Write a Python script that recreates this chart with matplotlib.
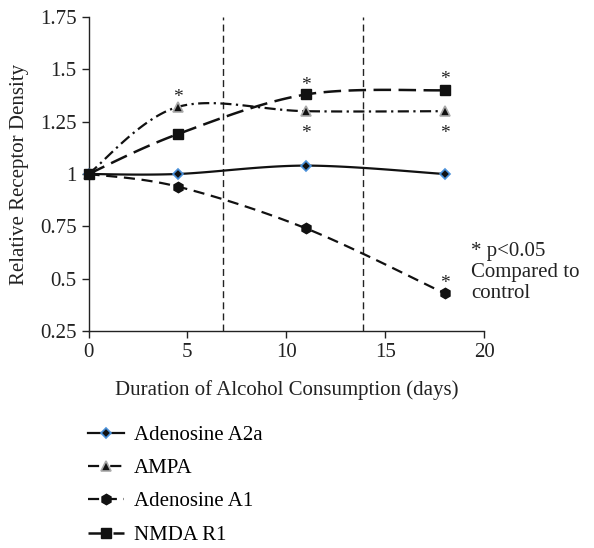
import numpy as np
import matplotlib
matplotlib.use("Agg")
import matplotlib.pyplot as plt

plt.rcParams['font.family'] = ['Liberation Serif', 'DejaVu Serif']

days = [0, 4.5, 11, 18]
a2a = [1.0, 1.0, 1.04, 1.0]
ampa = [1.0, 1.32, 1.30, 1.30]
a1 = [1.0, 0.94, 0.74, 0.43]
nmda = [1.0, 1.19, 1.38, 1.40]
series_names = ["Adenosine A2a", "AMPA", "Adenosine A1", "NMDA R1"]
vlines_x = [6.8, 13.9]
# significance asterisks (x, y)
star_x = [4.5, 11, 18, 11, 18, 18]
star_y = [1.365, 1.425, 1.45, 1.195, 1.195, 0.475]
xticks = [0, 5, 10, 15, 20]
yticks = [0.25, 0.5, 0.75, 1, 1.25, 1.5, 1.75]
ytick_labels = ["0.25", "0.5", "0.75", "1", "1.25", "1.5", "1.75"]

FS = 15

fig = plt.figure(figsize=(5.94, 5.48), dpi=100)
ax = fig.add_axes([0.149, 0.396, 0.666, 0.573])
ax.set_xlim(0, 20)
ax.set_ylim(0.25, 1.75)


def smooth(xs, ys, n=40):
    # Excel-like smoothed line: Bezier with Catmull-Rom control points in display space
    P = ax.transData.transform(np.column_stack([xs, ys]))
    out = [P[0]]
    m = len(P)
    for i in range(m - 1):
        p0 = P[i - 1] if i > 0 else P[i]
        p1 = P[i]
        p2 = P[i + 1]
        p3 = P[i + 2] if i + 2 < m else P[i + 1]
        c1 = p1 + (p2 - p0) / 6.0
        c2 = p2 - (p3 - p1) / 6.0
        t = np.linspace(0, 1, n)[1:, None]
        seg = ((1 - t) ** 3) * p1 + 3 * ((1 - t) ** 2) * t * c1 + 3 * (1 - t) * t ** 2 * c2 + t ** 3 * p2
        out.extend(seg)
    out = np.array(out)
    d = ax.transData.inverted().transform(out)
    return d[:, 0], d[:, 1]


styles = [
    dict(ls='-', lw=1.6, marker='D', ms=5, mfc='#111111', mec='#4a90d9', mew=1.2),
    dict(ls=(0, (5, 2, 1, 2)), lw=1.6, marker='^', ms=7, mfc='#111111', mec='#aaaaaa', mew=1.2),
    dict(ls=(0, (5, 3)), lw=1.6, marker='h', ms=7.5, mfc='#111111', mec='#111111', mew=1),
    dict(ls=(0, (7, 3)), lw=1.8, marker='s', ms=7.5, mfc='#111111', mec='#111111', mew=1),
]
all_series = [a2a, ampa, a1, nmda]
handles = []
for ys, st, name in zip(all_series, styles, series_names):
    sx, sy = smooth(days, ys)
    ax.plot(sx, sy, color='#111111', ls=st['ls'], lw=st['lw'], zorder=2)
    ax.plot(days, ys, ls='none', marker=st['marker'], ms=st['ms'], mfc=st['mfc'],
            mec=st['mec'], mew=st['mew'], zorder=3, clip_on=False)
    h, = ax.plot([], [], color='#111111', ls=st['ls'], lw=st['lw'], marker=st['marker'],
                 ms=st['ms'], mfc=st['mfc'], mec=st['mec'], mew=st['mew'])
    handles.append(h)

for vx in vlines_x:
    ax.axvline(vx, color='#222222', ls=(0, (5, 3)), lw=1.0, zorder=1)

for sx_, sy_ in zip(star_x, star_y):
    ax.text(sx_, sy_, "*", ha='center', va='center', fontsize=14, color='#222222')

ax.text(19.35, 0.53, "* p<0.05\nCompared to\ncontrol", ha='left', va='center',
        fontsize=FS, linespacing=1.15, color='#222222')

ax.spines['top'].set_visible(False)
ax.spines['right'].set_visible(False)
for s in ['left', 'bottom']:
    ax.spines[s].set_linewidth(1.0)
    ax.spines[s].set_color('#222222')
ax.set_xticks(xticks)
ax.set_yticks(yticks)
ax.set_yticklabels(ytick_labels)
ax.tick_params(direction='out', length=5, width=1, labelsize=FS, colors='#222222')
ax.set_xlabel("Duration of Alcohol Consumption (days)", fontsize=FS, labelpad=13, color='#222222')
ax.set_ylabel("Relative Receptor Density", fontsize=FS, labelpad=8, color='#222222')

fig.legend(handles=handles, labels=series_names, loc='upper left',
           bbox_to_anchor=(0.148, 0.224), frameon=False, fontsize=FS,
           borderaxespad=0, borderpad=0,
           handlelength=1.75, labelspacing=0.66, handletextpad=0.45)

fig.savefig("out.png", dpi=100)
